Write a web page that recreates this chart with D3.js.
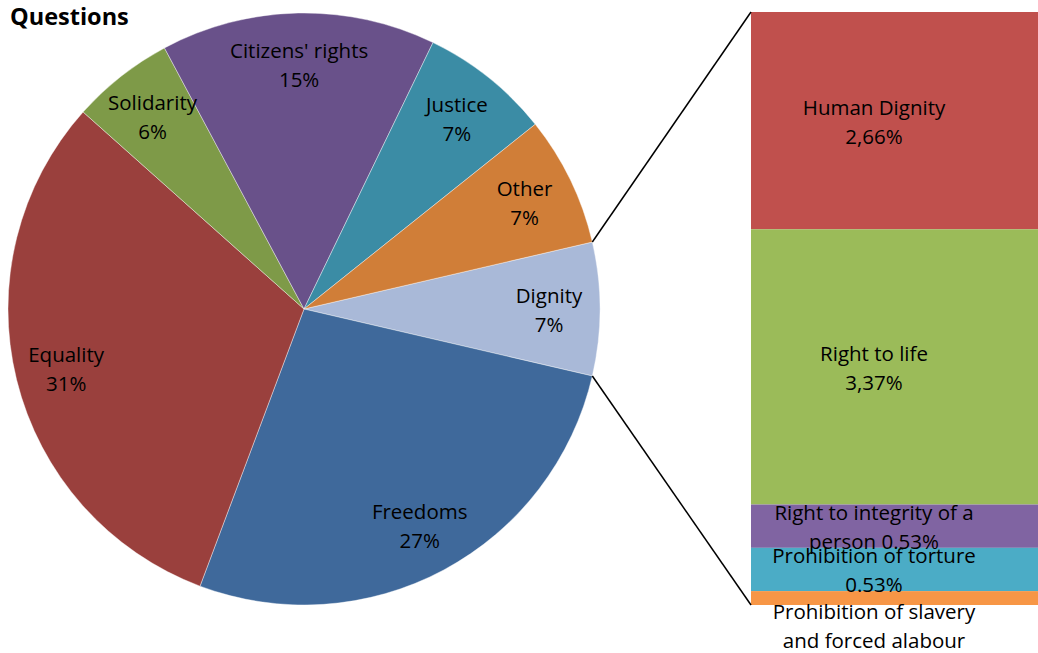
<!DOCTYPE html>
<html>
  <head>
    <script src="https://d3js.org/d3.v7.min.js"></script>
    <style>
      body { margin: 0; background: #fff; }
      text { font-family: "Open Sans", Lato, sans-serif; fill: #000; }
    </style>
  </head>
  <body>
    <div id="chart"></div>
    <script>
      // Pie data (percent), clockwise from the slice broken out into the bar
      const pieLabels = ["Dignity", "Freedoms", "Equality", "Solidarity", "Citizens' rights", "Justice", "Other"];
      const pieValues = [7.27, 27.1, 30.9, 5.6, 15.0, 7.1, 7.1];
      const pieText = ["7%", "27%", "31%", "6%", "15%", "7%", "7%"];
      const pieColors = ["#a9b9d8", "#3f699b", "#9a403d", "#7e9a48", "#69518a", "#3b8ca5", "#d07e38"];

      // Bar breakdown of "Dignity"
      const barLabels = ["Human Dignity", "Right to life", "Right to integrity of a", "Prohibition of torture", "Prohibition of slavery"];
      const barLabels2 = ["2,66%", "3,37%", "person 0.53%", "0.53%", "and forced alabour"];
      const barValues = [2.66, 3.37, 0.53, 0.53, 0.17];
      const barColors = ["#c0504d", "#9bbb59", "#8064a2", "#4bacc6", "#f79646"];

      const W = 1038, H = 653;
      const cx = 304, cy = 309, R = 296;
      const fs = "20.5px";

      const svg = d3.select("#chart")
        .append("svg")
        .attr("width", W)
        .attr("height", H);

      svg.append("text")
        .attr("x", 10)
        .attr("y", 25)
        .style("font-size", "23.5px")
        .style("font-weight", "bold")
        .text("Questions");

      // Pie: Dignity centred at 3 o'clock
      const dignityAngle = pieValues[0] / d3.sum(pieValues) * 2 * Math.PI;
      const start = Math.PI / 2 - dignityAngle / 2;
      const pie = d3.pie()
        .sort(null)
        .value(d => d)
        .startAngle(start)
        .endAngle(start + 2 * Math.PI);
      const arcs = pie(pieValues);

      const arc = d3.arc().innerRadius(0).outerRadius(R);
      const labelArc = d3.arc().innerRadius(245).outerRadius(245);

      const g = svg.append("g").attr("transform", `translate(${cx}, ${cy})`);

      g.selectAll("path")
        .data(arcs)
        .enter()
        .append("path")
        .attr("d", arc)
        .attr("fill", (d, i) => pieColors[i])
        .attr("stroke", "#fff")
        .attr("stroke-width", 0.4);

      const pl = g.selectAll(".plabel")
        .data(arcs)
        .enter()
        .append("text")
        .attr("class", "plabel")
        .attr("text-anchor", "middle")
        .style("font-size", fs)
        .attr("transform", d => `translate(${labelArc.centroid(d)})`);
      pl.append("tspan").attr("x", 0).attr("y", -6).text((d, i) => pieLabels[i]);
      pl.append("tspan").attr("x", 0).attr("y", 23).text((d, i) => pieText[i]);

      // Bar of pie
      const barX0 = 751, barX1 = 1045, barTop = 12, barBottom = 605;
      const total = d3.sum(barValues);
      const y = d3.scaleLinear().domain([0, total]).range([barTop, barBottom]);
      const cum = d3.cumsum(barValues);
      const segs = barValues.map((v, i) => ({ v, y0: cum[i] - v, y1: cum[i] }));

      svg.selectAll(".seg")
        .data(segs)
        .enter()
        .append("rect")
        .attr("class", "seg")
        .attr("x", barX0)
        .attr("width", barX1 - barX0)
        .attr("y", d => y(d.y0))
        .attr("height", d => y(d.y1) - y(d.y0))
        .attr("fill", (d, i) => barColors[i]);

      // Connector lines from Dignity edge to bar corners
      const d0 = arcs[0];
      const p1 = [cx + R * Math.sin(d0.startAngle), cy - R * Math.cos(d0.startAngle)];
      const p2 = [cx + R * Math.sin(d0.endAngle), cy - R * Math.cos(d0.endAngle)];
      svg.append("line")
        .attr("x1", p1[0]).attr("y1", p1[1])
        .attr("x2", barX0).attr("y2", barTop)
        .attr("stroke", "#000").attr("stroke-width", 1.5);
      svg.append("line")
        .attr("x1", p2[0]).attr("y1", p2[1])
        .attr("x2", barX0).attr("y2", barBottom)
        .attr("stroke", "#000").attr("stroke-width", 1.5);

      const bl = svg.selectAll(".blabel")
        .data(segs)
        .enter()
        .append("text")
        .attr("class", "blabel")
        .attr("text-anchor", "middle")
        .style("font-size", fs)
        .attr("transform", d => {
          const mid = (y(d.y0) + y(d.y1)) / 2;
          return `translate(874, ${mid})`;
        });
      bl.append("tspan").attr("x", 0).attr("y", (d, i) => i === 4 ? 21 : -6).text((d, i) => barLabels[i]);
      bl.append("tspan").attr("x", 0).attr("y", (d, i) => i === 4 ? 50 : 23).text((d, i) => barLabels2[i]);
    </script>
  </body>
</html>
